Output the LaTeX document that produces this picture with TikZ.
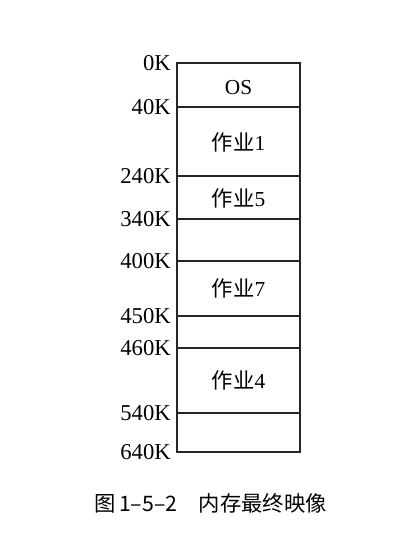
\documentclass[tikz,border=0pt]{standalone}
\usepackage{fontspec}
\setmainfont{Liberation Serif}
\newfontfamily\cjk{Noto Sans CJK SC}
\usetikzlibrary{positioning}

\begin{document}
\begin{tikzpicture}[
    x=0.75pt, y=-0.75pt,
    every node/.style={font=\fontsize{16}{18}\selectfont},
    addr/.style={anchor=east,inner sep=0pt,font=\fontsize{17}{19}\selectfont},
    part/.style={draw=black!85,line width=1pt}
]
\useasboundingbox (0,0) rectangle (416,548);

% memory block and partition boundaries
\draw[part] (177,63) rectangle (300,452);
\draw[part] (177,107) -- (300,107);
\draw[part] (177,176) -- (300,176);
\draw[part] (177,219) -- (300,219);
\draw[part] (177,261) -- (300,261);
\draw[part] (177,316) -- (300,316);
\draw[part] (177,348) -- (300,348);
\draw[part] (177,413) -- (300,413);

% addresses
\node[addr] (a0) at (171,63) {0K};
\node[addr] (a40) at (171,107) {40K};
\node[addr] (a240) at (171,176) {240K};
\node[addr] (a340) at (171,219) {340K};
\node[addr] (a400) at (171,261) {400K};
\node[addr] (a450) at (171,316) {450K};
\node[addr] (a460) at (171,348) {460K};
\node[addr] (a540) at (171,413) {540K};
\node[addr] (a640) at (171,452) {640K};

% contents
\node (os) at (238.5,88) {OS};
\node (job1) at (238.5,142) {{\cjk 作业}1};
\node (job5) at (238.5,198) {{\cjk 作业}5};
\node (job7) at (238.5,288) {{\cjk 作业}7};
\node (job4) at (238.5,380) {{\cjk 作业}4};

\node[font=\cjk\fontsize{16}{18}\selectfont] (cap) at (210.5,503) {图\,1–5–2\quad 内存最终映像};
\end{tikzpicture}
\end{document}
